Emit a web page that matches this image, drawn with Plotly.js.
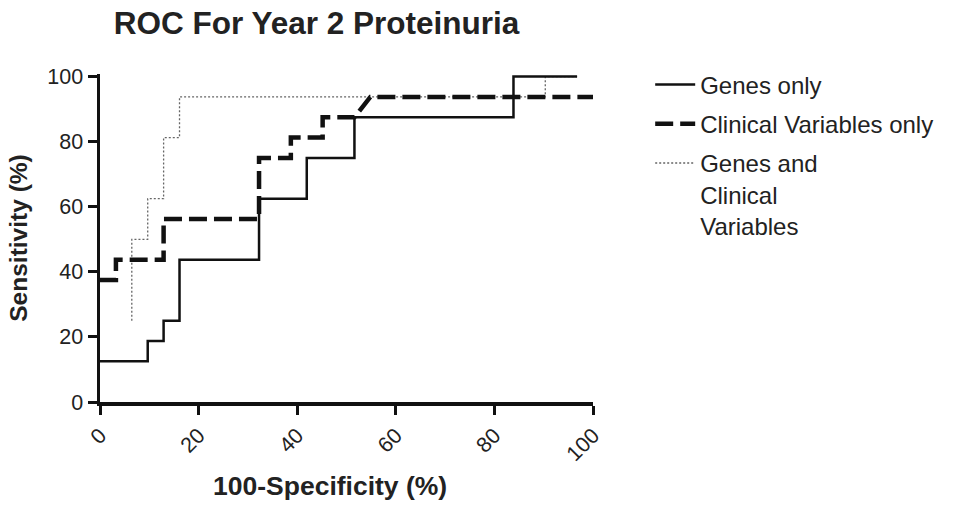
<!DOCTYPE html>
<html>
<head>
<meta charset="utf-8">
<script src="https://cdn.plot.ly/plotly-3.0.1.min.js"></script>
<style>html,body{margin:0;padding:0;background:#fff;}#chart{width:968px;height:506px;}</style>
</head>
<body>
<div id="chart"></div>
<script>
// ROC points: 100-Specificity (%) and Sensitivity (%)
const genesX = [0, 9.68, 9.68, 12.9, 12.9, 16.13, 16.13, 32.26, 32.26, 41.94, 41.94, 51.61, 51.61, 83.87, 83.87, 96.77];
const genesY = [12.5, 12.5, 18.75, 18.75, 25, 25, 43.75, 43.75, 62.5, 62.5, 75, 75, 87.5, 87.5, 100, 100];

const clinX = [0, 3.23, 3.23, 12.9, 12.9, 32.26, 32.26, 38.71, 38.71, 45.16, 45.16, 51.61, 54.84, 100];
const clinY = [37.5, 37.5, 43.75, 43.75, 56.25, 56.25, 75, 75, 81.25, 81.25, 87.5, 87.5, 93.75, 93.75];

const bothX = [6.45, 6.45, 9.68, 9.68, 12.9, 12.9, 16.13, 16.13, 90.32, 90.32, 96.77];
const bothY = [25, 50, 50, 62.5, 62.5, 81.25, 81.25, 93.75, 93.75, 100, 100];

const seriesNames = ["Genes only", "Clinical Variables only", "Genes and<br>Clinical<br>Variables"];
const tickVals = [0, 20, 40, 60, 80, 100];
const tickText = ["0", "20", "40", "60", "80", "100"];

const FONT = "Liberation Sans, Arial, Helvetica, sans-serif";

const traces = [
  {x: bothX, y: bothY, name: seriesNames[2], mode: "lines", legendgroup: "c", legendrank: 3,
   line: {color: "#666", width: 1.3, dash: "2px,2px"}},
  {x: genesX, y: genesY, name: seriesNames[0], mode: "lines", legendgroup: "a", legendrank: 1,
   line: {color: "#111", width: 2.5}},
  {x: clinX, y: clinY, name: seriesNames[1], mode: "lines", legendgroup: "b", legendrank: 2,
   line: {color: "#111", width: 4.5, dash: "18px,7px"}}
];

const axisCommon = {
  showgrid: false, zeroline: false, showline: true, linecolor: "#111", linewidth: 3.5,
  ticks: "outside", ticklen: 9, tickwidth: 3, tickcolor: "#111",
  tickvals: tickVals, ticktext: tickText,
  tickfont: {family: FONT, size: 21.5, color: "#222"}
};

const layout = {
  width: 968, height: 506,
  margin: {l: 100, r: 375, t: 74, b: 104},
  paper_bgcolor: "#fff", plot_bgcolor: "#fff",
  font: {family: FONT, color: "#222"},
  title: {text: "<b>ROC For Year 2 Proteinuria</b>", font: {family: FONT, size: 31.5, color: "#222"},
          xref: "paper", x: 0.028, xanchor: "left", yref: "container", y: 0.955, yanchor: "middle"},
  xaxis: Object.assign({}, axisCommon, {range: [0, 100], tickangle: -45}),
  yaxis: Object.assign({}, axisCommon, {
    range: [0, 100.8],
    title: {text: "<b>Sensitivity (%)</b>", font: {family: FONT, size: 24.5, color: "#222"}, standoff: 14}
  }),
  annotations: [{
    text: "<b>100-Specificity (%)</b>", xref: "paper", yref: "paper",
    x: 0.4665, y: -0.256, xanchor: "center", yanchor: "middle", showarrow: false,
    font: {family: FONT, size: 26.5, color: "#222"}
  }],
  showlegend: true,
  legend: {
    x: 1.116, xanchor: "left", y: 1.035, yanchor: "top",
    font: {family: FONT, size: 24, color: "#222"},
    traceorder: "grouped", tracegroupgap: 5, valign: "top", itemwidth: 40,
    bgcolor: "rgba(0,0,0,0)"
  }
};

Plotly.newPlot("chart", traces, layout, {displayModeBar: false, staticPlot: true});
</script>
</body>
</html>
